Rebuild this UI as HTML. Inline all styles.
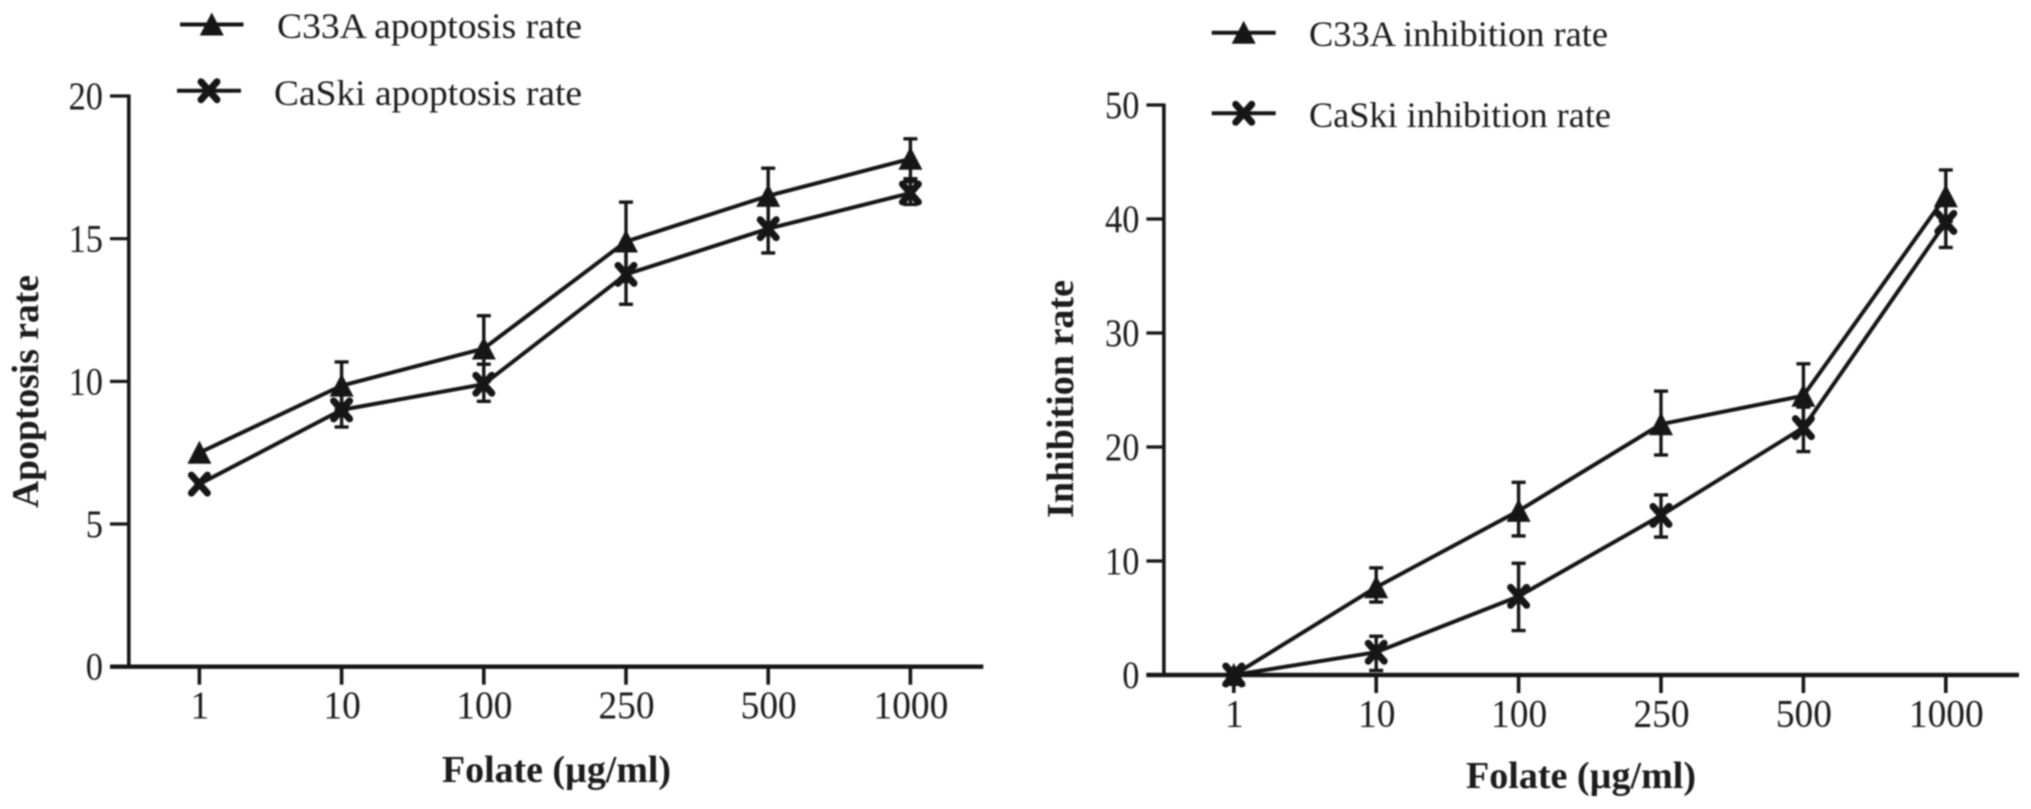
<!DOCTYPE html>
<html lang="en">
<head>
<meta charset="utf-8">
<title>Folate apoptosis and inhibition rates</title>
<style>
html,body{margin:0;padding:0;background:#fff;width:2031px;height:809px;overflow:hidden}
svg{display:block}
text{font-family:"Liberation Serif",serif;fill:#1a1a1a}
.leg{font-size:36px}
.tick{font-size:39px}
.title{font-size:38px;font-weight:bold}
</style>
</head>
<body>
<svg id="figure" width="2031" height="809" viewBox="0 0 2031 809" xmlns="http://www.w3.org/2000/svg">
<defs><filter id="soft" x="-2%" y="-2%" width="104%" height="104%"><feGaussianBlur stdDeviation="0.75"/></filter></defs>
<rect x="0" y="0" width="2031" height="809" fill="#fff"/>
<g id="root" filter="url(#soft)">
  <text class="leg" x="277" y="38" textLength="305" lengthAdjust="spacingAndGlyphs">C33A apoptosis rate</text>
  <text class="leg" x="274" y="105" textLength="308" lengthAdjust="spacingAndGlyphs">CaSki apoptosis rate</text>
  <text class="leg" x="1309" y="46" textLength="299" lengthAdjust="spacingAndGlyphs">C33A inhibition rate</text>
  <text class="leg" x="1309" y="127" textLength="302" lengthAdjust="spacingAndGlyphs">CaSki inhibition rate</text>
  <text class="title" x="442" y="782" textLength="229" lengthAdjust="spacingAndGlyphs">Folate (µg/ml)</text>
  <text class="title" x="1466" y="788" textLength="230" lengthAdjust="spacingAndGlyphs">Folate (µg/ml)</text>
  <text class="title" transform="translate(38,508) rotate(-90)" textLength="233" lengthAdjust="spacingAndGlyphs">Apoptosis rate</text>
  <text class="title" transform="translate(1073,518) rotate(-90)" textLength="238" lengthAdjust="spacingAndGlyphs">Inhibition rate</text>
</g>
</svg>
<script>
const categories = ['1', '10', '100', '250', '500', '1000'];

const apoptosisTicks = [0, 5, 10, 15, 20];
const c33aApoptosis = [7.5, 9.85, 11.15, 14.9, 16.5, 17.8];
const c33aApoptosisUpper = [7.5, 10.68, 12.3, 16.28, 17.47, 18.5];
const c33aApoptosisLower = [7.5, 9.0, 10.0, 13.5, 15.5, 17.1];
const caskiApoptosis = [6.4, 9.0, 9.9, 13.75, 15.35, 16.6];
const caskiApoptosisUpper = [6.4, 9.6, 10.6, 14.8, 16.2, 17.0];
const caskiApoptosisLower = [6.4, 8.4, 9.3, 12.7, 14.5, 16.2];

const inhibitionTicks = [0, 10, 20, 30, 40, 50];
const c33aInhibition = [0, 7.7, 14.4, 22, 24.5, 42];
const c33aInhibitionUpper = [0, 9.4, 16.9, 24.9, 27.3, 44.3];
const c33aInhibitionLower = [0, 6.4, 12.2, 19.3, 22, 39.8];
const caskiInhibition = [0, 2, 6.9, 14, 21.7, 39.7];
const caskiInhibitionUpper = [0, 3.4, 9.8, 15.8, 23.5, 41.5];
const caskiInhibitionLower = [0, 0.4, 3.9, 12.1, 19.6, 37.5];

const NS = 'http://www.w3.org/2000/svg';
const INK = '#141414';
const root = document.getElementById('root');

function line(parent, x1, y1, x2, y2, w, name) {
  const el = document.createElementNS(NS, 'line');
  el.setAttribute('x1', x1);
  el.setAttribute('y1', y1);
  el.setAttribute('x2', x2);
  el.setAttribute('y2', y2);
  el.setAttribute('stroke', INK);
  el.setAttribute('stroke-width', w);
  
  
  parent.appendChild(el);
  return el;
}

function triangle(parent, cx, cy, name) {
  const el = document.createElementNS(NS, 'polygon');
  el.setAttribute('points', (cx - 12) + ',' + (cy + 11) + ' ' + cx + ',' + (cy - 12) + ' ' + (cx + 12) + ',' + (cy + 11));
  el.setAttribute('fill', INK);
  
  
  parent.appendChild(el);
}

function cross(parent, cx, cy, name) {
  const el = document.createElementNS(NS, 'path');
  el.setAttribute('d', 'M' + (cx - 8) + ' ' + (cy - 9) + 'L' + (cx + 8) + ' ' + (cy + 9) + 'M' + (cx + 8) + ' ' + (cy - 9) + 'L' + (cx - 8) + ' ' + (cy + 9));
  el.setAttribute('stroke', INK);
  el.setAttribute('stroke-width', '7');
  el.setAttribute('stroke-linecap', 'round');
  el.setAttribute('fill', 'none');
  
  
  parent.appendChild(el);
}

function label(parent, str, x, y, anchor, width, name) {
  const el = document.createElementNS(NS, 'text');
  el.setAttribute('class', 'tick');
  el.setAttribute('x', x);
  el.setAttribute('y', y);
  el.setAttribute('text-anchor', anchor);
  el.setAttribute('textLength', width);
  el.setAttribute('lengthAdjust', 'spacingAndGlyphs');
  
  
  el.textContent = str;
  parent.appendChild(el);
}

function drawSeries(g, xs, yScale, values, upper, lower, marker, name) {
  const s = document.createElementNS(NS, 'g');
  
  
  g.appendChild(s);
  const path = document.createElementNS(NS, 'polyline');
  path.setAttribute('points', values.map((v, i) => xs(i) + ',' + yScale(v)).join(' '));
  path.setAttribute('fill', 'none');
  path.setAttribute('stroke', INK);
  path.setAttribute('stroke-width', '4');
  path.setAttribute('stroke-linejoin', 'round');
  
  
  s.appendChild(path);
  values.forEach((v, i) => {
    const x = xs(i);
    if (upper[i] !== lower[i]) {
      line(s, x, yScale(upper[i]), x, yScale(lower[i]), 3.4, name + '-error-bar');
      line(s, x - 7, yScale(upper[i]), x + 7, yScale(upper[i]), 3.4, name + '-error-cap-top');
      line(s, x - 7, yScale(lower[i]), x + 7, yScale(lower[i]), 3.4, name + '-error-cap-bottom');
    }
    marker(s, x, yScale(v), name + '-point');
  });
}

function drawChart(cfg) {
  const g = document.createElementNS(NS, 'g');
  
  
  root.appendChild(g);
  const maxTick = cfg.ticks[cfg.ticks.length - 1];
  const yScale = v => cfg.y0 - (v / maxTick) * (cfg.y0 - cfg.yTop);
  const xs = i => cfg.x0 + i * cfg.xStep;

  line(g, cfg.axisX, cfg.yTop - 1.5, cfg.axisX, cfg.y0, 3.6, 'y-axis-line');
  line(g, cfg.xStart, cfg.y0, cfg.xEnd, cfg.y0, 4.4, 'x-axis-line');
  cfg.ticks.forEach(t => {
    const y = yScale(t);
    line(g, cfg.xStart, y, cfg.axisX, y, 3.2, 'y-tick-' + t);
    label(g, String(t), cfg.xStart - 7, y + 13, 'end', String(t).length * 17.2, 'y-tick-label-' + t);
  });
  categories.forEach((c, i) => {
    const x = xs(i);
    line(g, x, cfg.y0, x, cfg.y0 + 18, 3.6, 'x-tick-' + c);
    label(g, c, x + 0.5, cfg.y0 + 51.5, 'middle', c.length * 18.7, 'x-tick-label-' + c);
  });

  drawSeries(g, xs, yScale, cfg.a, cfg.aUp, cfg.aLo, triangle, cfg.name + '-c33a');
  drawSeries(g, xs, yScale, cfg.b, cfg.bUp, cfg.bLo, cross, cfg.name + '-caski');

  line(g, cfg.legA[0], cfg.legA[2], cfg.legA[1], cfg.legA[2], 4, 'legend-line-c33a');
  triangle(g, (cfg.legA[0] + cfg.legA[1]) / 2, cfg.legA[2], 'legend-marker-c33a');
  line(g, cfg.legB[0], cfg.legB[2], cfg.legB[1], cfg.legB[2], 4, 'legend-line-caski');
  cross(g, (cfg.legB[0] + cfg.legB[1]) / 2, cfg.legB[2], 'legend-marker-caski');
}

drawChart({
  name: 'apoptosis-chart', ticks: apoptosisTicks,
  y0: 666.7, yTop: 96, axisX: 128.8, xStart: 110, xEnd: 983.3, x0: 199.4, xStep: 142.2,
  a: c33aApoptosis, aUp: c33aApoptosisUpper, aLo: c33aApoptosisLower,
  b: caskiApoptosis, bUp: caskiApoptosisUpper, bLo: caskiApoptosisLower,
  legA: [180, 243.5, 24.5], legB: [177, 241, 90.7]
});
drawChart({
  name: 'inhibition-chart', ticks: inhibitionTicks,
  y0: 675, yTop: 105, axisX: 1163.9, xStart: 1146.4, xEnd: 2019, x0: 1233.8, xStep: 142.4,
  a: c33aInhibition, aUp: c33aInhibitionUpper, aLo: c33aInhibitionLower,
  b: caskiInhibition, bUp: caskiInhibitionUpper, bLo: caskiInhibitionLower,
  legA: [1211.7, 1275.7, 32.7], legB: [1211.7, 1275.7, 113.3]
});
</script>
</body>
</html>
